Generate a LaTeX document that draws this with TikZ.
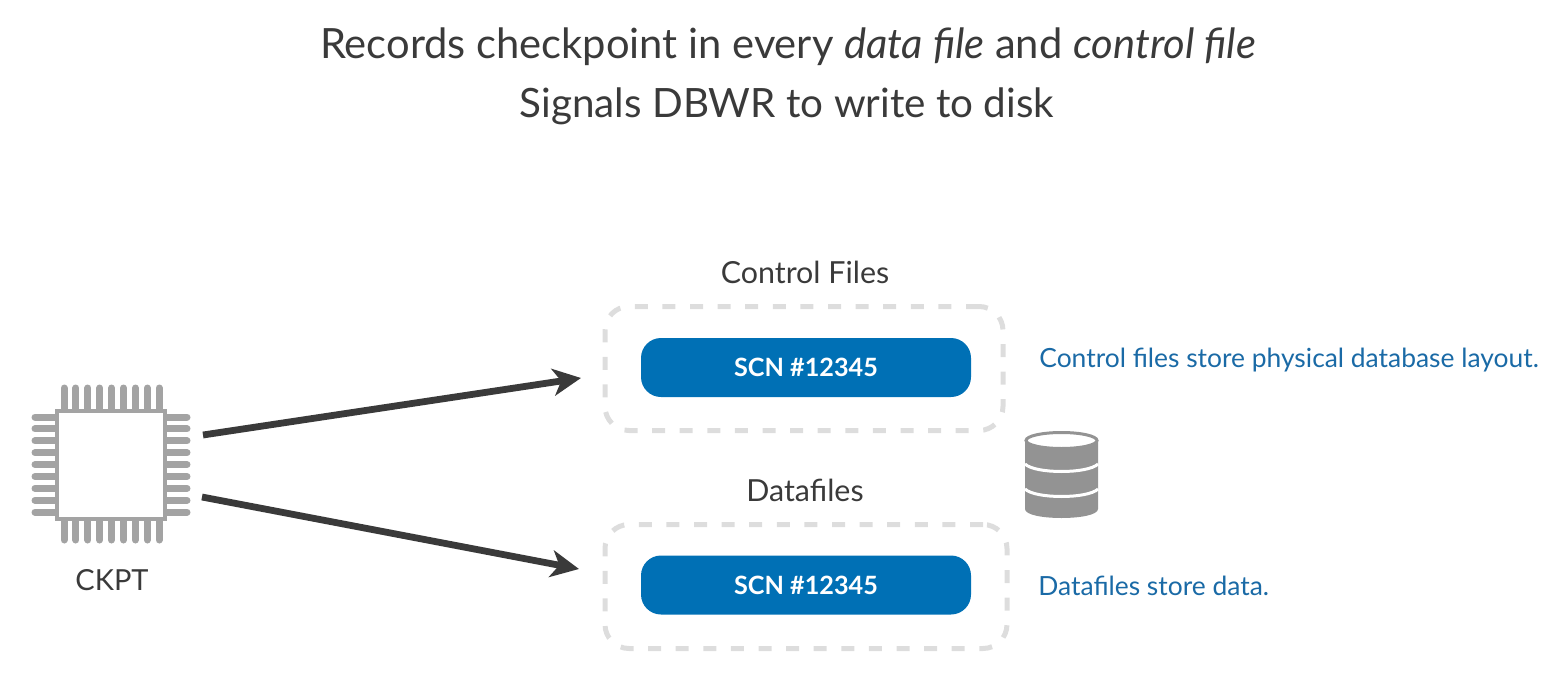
\documentclass[tikz,border=0pt]{standalone}
\usepackage{fontspec}
\setmainfont{Lato}
\usetikzlibrary{positioning, arrows.meta}
\definecolor{chip_gray}{HTML}{A3A3A3}
\definecolor{dash_gray}{HTML}{DDDDDD}
\definecolor{scn_blue}{HTML}{0070B5}
\definecolor{note_blue}{HTML}{1A6AA6}
\definecolor{text_gray}{HTML}{3A3A3A}
\definecolor{disk_gray}{HTML}{939393}
\tikzset{
    title_text/.style={text=text_gray, font=\fontsize{20.85}{24}\selectfont, inner sep=0pt},
    box_label/.style={text=text_gray, font=\fontsize{15.2}{17}\selectfont, inner sep=0pt},
    note_text/.style={text=note_blue, font=\fontsize{13.2}{15}\selectfont, inner sep=0pt, anchor=west},
    dashed_box/.style={rectangle, rounded corners=12pt, draw=dash_gray, line width=2.5pt, dash pattern=on 6.5pt off 7.3pt, minimum height=62pt, inner sep=0pt},
    scn_node/.style={rectangle, rounded corners=10pt, fill=scn_blue, text=white, minimum width=165pt, minimum height=29.5pt, font=\bfseries\fontsize{12.6}{15}\selectfont, inner sep=0pt},
    chip_node/.style={rectangle, draw=chip_gray, line width=2pt, fill=white, minimum width=54pt, minimum height=54pt, inner sep=0pt},
    chip_pin/.style={draw=chip_gray, line width=3.5pt, line cap=round},
    arrow/.style={draw=text_gray, line width=3.4pt, -{Stealth[length=14pt, width=13.5pt, inset=4pt]}},
}
\begin{document}
\begin{tikzpicture}[x=0.5pt, y=-0.5pt, node distance=10pt]
            \useasboundingbox (0,0) rectangle (1565,685);
            %%%%%%%%%
            % TITLE %
            %%%%%%%%%
            \node (title_top) [title_text] at (788,47)
                    {Records checkpoint in every \textit{data file} and \textit{control file}};
            \node (title_bottom) [title_text, font=\fontsize{20.2}{24}\selectfont] at (787,106)
                    {Signals DBWR to write to disk};

            %%%%%%%%
            % CHIP %
            %%%%%%%%
            \foreach \i in {0,...,8} {
                \pgfmathsetmacro{\pinx}{64+\i*11.9}
                \pgfmathsetmacro{\piny}{417+\i*11.9}
                \draw [chip_pin] (\pinx,388) -- (\pinx,412);
                \draw [chip_pin] (\pinx,518) -- (\pinx,540);
                \draw [chip_pin] (35,\piny) -- (60,\piny);
                \draw [chip_pin] (163,\piny) -- (187,\piny);
            }
            \node (ckpt_chip) [chip_node] at (111,464.5) {};
            \node (ckpt_label) [box_label, font=\fontsize{14.5}{17}\selectfont] at (112,580) {CKPT};

            %%%%%%%%%%%%%%%%%
            % CONTROL FILES %
            %%%%%%%%%%%%%%%%%
            \node (control_box) [dashed_box, minimum width=199pt] at (804,368.5) {};
            \node (control_scn) [scn_node] at (806,367.5) {SCN \#12345};
            \node (control_label) [box_label] at (805,272) {Control Files};
            \node (control_note) [note_text] at (1039,360)
                    {Control files store physical database layout.};

            %%%%%%%%%%%%%
            % DATAFILES %
            %%%%%%%%%%%%%
            \node (data_box) [dashed_box, minimum width=201pt] at (806,586.5) {};
            \node (data_scn) [scn_node] at (806,585) {SCN \#12345};
            \node (data_label) [box_label] at (805,490) {Datafiles};
            \node (data_note) [note_text] at (1038,586)
                    {Datafiles store data.};

            %%%%%%%%
            % DISK %
            %%%%%%%%
            \fill [disk_gray] (1025,440) -- (1025,509) .. controls (1025,521) and (1098,521) .. (1098,509) -- (1098,440) -- cycle;
            \foreach \y in {464,489} {
                \draw [white, line width=1.5pt] (1025,\y) .. controls (1035,\y+10) and (1088,\y+10) .. (1098,\y);
            }
            \draw [disk_gray, fill=white, line width=1.5pt] (1061.5,440.5) ellipse [x radius=35.5, y radius=8];

            %%%%%%%%%%
            % ARROWS %
            %%%%%%%%%%
            \coordinate (control_from) at (203,435);
            \coordinate (control_to) at (581,378);
            \coordinate (data_from) at (202,497);
            \coordinate (data_to) at (579,569);
            \draw [arrow] (control_from) -- (control_to);
            \draw [arrow] (data_from) -- (data_to);
\end{tikzpicture}
\end{document}
